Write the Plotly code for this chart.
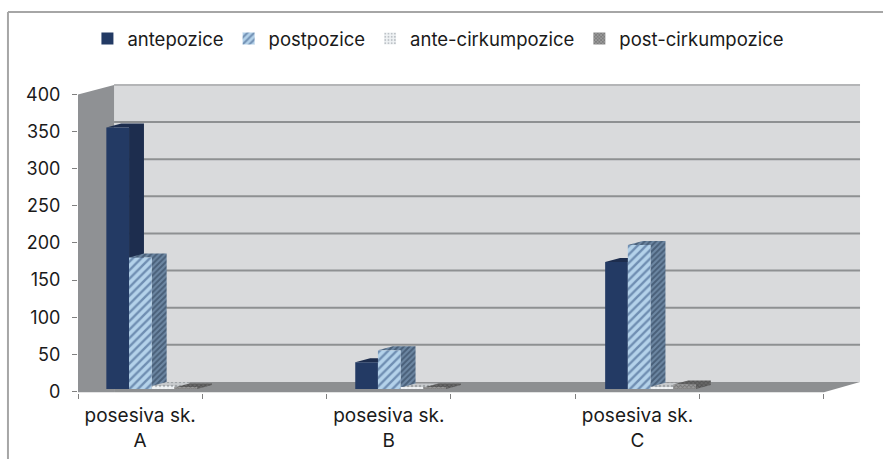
import plotly.graph_objects as go

category_labels = ["posesiva sk.<br>A", "posesiva sk.<br>B", "posesiva sk.<br>C"]
category_positions = [0.5, 2.5, 4.5]
band_edges = [0, 1, 2, 3, 4, 5, 6]
y_ticks = [0, 50, 100, 150, 200, 250, 300, 350, 400]
antepozice = [352, 36, 171]
postpozice = [177, 52, 194]
ante_cirkumpozice = [4, 2, 3]
post_cirkumpozice = [2, 2, 6]
group_starts = [0.228, 2.23, 4.24]

series = [
    ("antepozice", antepozice, dict(color="#233a64"), "#1d2d4e", None),
    ("postpozice", postpozice,
     dict(color="#a9cce8", pattern=dict(shape="/", bgcolor="#b4d2ea", fgcolor="#2a4a7a", size=6, solidity=0.4)),
     "#5f7b9a", dict(shape="/", bgcolor="#6d87a3", fgcolor="#26384f", size=4, solidity=0.5)),
    ("ante-cirkumpozice", ante_cirkumpozice,
     dict(color="#f0f3f5", pattern=dict(shape=".", bgcolor="#f0f3f5", fgcolor="#8a9098", size=4, solidity=0.3)),
     "#c8cbce", dict(shape=".", bgcolor="#c8cbce", fgcolor="#777b80", size=4, solidity=0.3)),
    ("post-cirkumpozice", post_cirkumpozice,
     dict(color="#8b8b8b", pattern=dict(shape="x", bgcolor="#9a9a9a", fgcolor="#555555", size=3, solidity=0.5)),
     "#5d5d5d", dict(shape="x", bgcolor="#6a6a6a", fgcolor="#3c3c3c", size=3, solidity=0.5)),
]

BAR_W = 0.1825
BASE = 3.4
SIDE_DX, SIDE_DY = 0.12, 5.4
WALL_DX, WALL_DY = 0.29, 12.8
X_END = 6.0
FONT = "Inter"

fig = go.Figure()
for i, (name, vals, marker, side_col, side_pat) in enumerate(series):
    xs, ys = [], []
    centers = []
    for g, v in zip(group_starts, vals):
        l = g + i * BAR_W
        r = l + BAR_W
        centers.append(l + BAR_W / 2)
        t = BASE + v
        xs += [l, l + SIDE_DX, r + SIDE_DX, r + SIDE_DX, r, r, l, None]
        ys += [t, t + SIDE_DY, t + SIDE_DY, BASE + SIDE_DY, BASE, t, t, None]
    kw = dict(fillpattern=side_pat) if side_pat else {}
    fig.add_trace(go.Scatter(x=xs, y=ys, mode="lines", fill="toself", fillcolor=side_col,
                             line=dict(width=0, color=side_col), hoverinfo="skip",
                             showlegend=False, zorder=2 * i, **kw))
    fig.add_trace(go.Bar(x=centers, y=vals, base=[BASE] * len(vals), width=BAR_W, name=name,
                         marker=dict(line=dict(width=0), **marker), zorder=2 * i + 1))

shapes = [
    dict(type="path", layer="below", line=dict(width=0), fillcolor="#d9dadc",
         path=f"M{WALL_DX},{WALL_DY} L{X_END+WALL_DX},{WALL_DY} L{X_END+WALL_DX},{400+WALL_DY} L{WALL_DX},{400+WALL_DY} Z"),
    dict(type="path", layer="below", line=dict(width=0), fillcolor="#8f9194",
         path=f"M0,-1 L{WALL_DX},-1 L{WALL_DX},{400+WALL_DY} L0,400 Z"),
    dict(type="path", layer="below", line=dict(width=0), fillcolor="#8d8f91",
         path=f"M{WALL_DX},-1 L{X_END},-1 L{X_END+WALL_DX},{WALL_DY} L{WALL_DX},{WALL_DY} Z"),
]
for v in y_ticks[1:]:
    shapes.append(dict(type="line", layer="below", x0=WALL_DX, x1=X_END + WALL_DX,
                       y0=v + WALL_DY, y1=v + WALL_DY,
                       line=dict(color="#8e9092" if v < 400 else "#b4b5b7", width=2)))

# outer frame of the picture
shapes += [
    dict(type="line", xref="paper", yref="paper", x0=-0.0891, x1=1.03, y0=1.2330, y1=1.2330,
         line=dict(color="#a6a6a6", width=2)),
    dict(type="line", xref="paper", yref="paper", x0=-0.0891, x1=-0.0891, y0=1.2330, y1=-0.22,
         line=dict(color="#a6a6a6", width=2)),
]

fig.update_layout(
    width=883, height=459,
    autosize=False,
    margin=dict(l=78, r=19, t=84, b=66, autoexpand=False),
    paper_bgcolor="white", plot_bgcolor="white",
    barmode="overlay",
    shapes=shapes,
    font=dict(family=FONT, size=18, color="#1a1a1a"),
    legend=dict(orientation="h", x=0.012, y=1.146, xanchor="left", yanchor="middle",
                font=dict(size=18.5), itemwidth=30, bgcolor="rgba(0,0,0,0)"),
    xaxis=dict(range=[0, 6.322], tickmode="array", tickvals=category_positions, ticktext=category_labels,
               ticks="", showgrid=False, zeroline=False, showline=False,
               tickfont=dict(size=19), ticklabelstandoff=9,
               minor=dict(tickmode="array", tickvals=band_edges, ticks="outside", ticklen=5,
                          tickwidth=1, tickcolor="#808080", showgrid=False)),
    yaxis=dict(range=[-2, 414], tickmode="array", tickvals=y_ticks, ticks="outside", ticklen=5,
               tickwidth=1, tickcolor="#808080", showgrid=False, zeroline=False, showline=False,
               ticklabelstandoff=8, tickfont=dict(size=18)),
)

fig.write_html("out.html", config={"displayModeBar": False},
               post_script="document.body.style.margin='0';document.body.style.overflow='hidden';")
